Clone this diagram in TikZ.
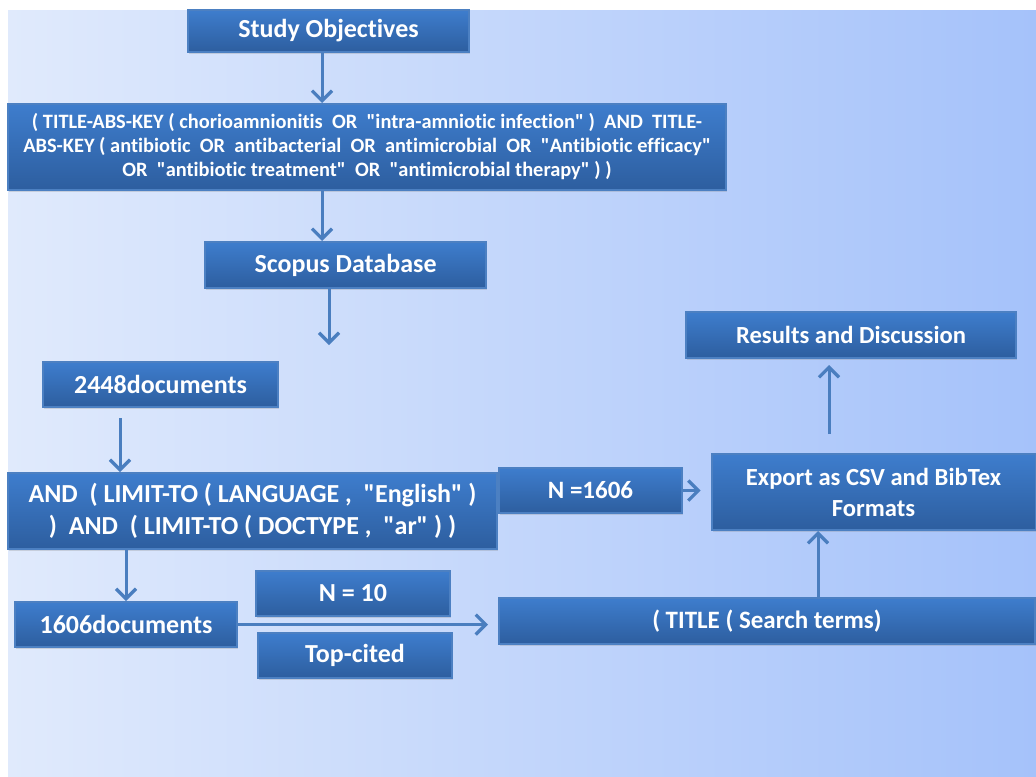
\documentclass[tikz,border=0pt]{standalone}
\usepackage{fontspec}
\setmainfont{Carlito}[Ligatures={NoCommon,TeXOff}]
\usetikzlibrary{arrows.meta,calc,positioning,shadows}
\definecolor{boxtop}{HTML}{3E7DCD}
\definecolor{boxbot}{HTML}{2D5E9F}
\definecolor{boxedge}{HTML}{4C80C2}
\definecolor{arrowblue}{HTML}{4A7EBF}
\definecolor{bgleft}{HTML}{E0EAFC}
\definecolor{bgright}{HTML}{A5C2FA}
\newcommand{\dq}{\symbol{34}}
\tikzset{
    x=0.5pt,y=-0.5pt,
    flowbox/.style ={rectangle, draw=boxedge, line width=1pt, top color=boxtop, bottom color=boxbot,
                     text=white, font=\bfseries\fontsize{13}{15}\selectfont, align=center, inner sep=1pt,
                     drop shadow={opacity=0.25, shadow xshift=0.6pt, shadow yshift=-1.2pt}},
    arr/.style ={-{Straight Barb[length=5pt,width=10pt,line width=1.6pt]}, draw=arrowblue, line width=1.5pt},
    link/.style ={draw=arrowblue, line width=1.5pt}
}

\begin{document}
\begin{tikzpicture}

  \useasboundingbox (0,0) rectangle (1036,776);
  \fill[white] (0,0) rectangle (1036,776);
  \shade[left color=bgleft, right color=bgright] (8,10) rectangle (1036,776);

  \node[flowbox, minimum width=140.5pt, minimum height=21pt]   (obj)      at (328.5,31)  {Study Objectives};
  \node[flowbox, minimum width=359pt, minimum height=43pt, font=\bfseries\fontsize{10.2}{12}\selectfont]
                                                               (query)    at (367,147)
    {( TITLE-ABS-KEY ( chorioamnionitis~ OR~ \dq intra-amniotic infection\dq\ )~ AND~ TITLE-\\
     ABS-KEY ( antibiotic~ OR~ antibacterial~ OR~ antimicrobial~ OR~ \dq Antibiotic efficacy\dq\\
     OR~ \dq antibiotic treatment\dq~ OR~ \dq antimicrobial therapy\dq\ ) )};
  \node[flowbox, minimum width=140.5pt, minimum height=23pt]   (scopus)   at (345.5,265) {Scopus Database};
  \node[flowbox, minimum width=117.5pt, minimum height=22.5pt] (docsA)    at (160.5,384.5) {2448documents};
  \node[flowbox, minimum width=244.5pt, minimum height=38pt, font=\bfseries\fontsize{13}{16}\selectfont]
                                                               (limit)    at (252.5,511)
    {AND~ ( LIMIT-TO ( LANGUAGE ,~ \dq English\dq\ )\\ )~ AND~ ( LIMIT-TO ( DOCTYPE ,~ \dq ar\dq\ ) )};
  \node[flowbox, minimum width=111pt, minimum height=22.5pt]   (docsB)    at (126,624.5) {1606documents};
  \node[flowbox, minimum width=97pt, minimum height=22.5pt]    (nten)     at (353,593.5) {N = 10};
  \node[flowbox, minimum width=97pt, minimum height=22.5pt]    (topcited) at (355,655.5) {Top-cited};
  \node[flowbox, minimum width=268pt, minimum height=23pt, font=\bfseries\fontsize{12.5}{15}\selectfont]
                                                               (title)    at (767,621)   {( TITLE ( Search terms)};
  \node[flowbox, minimum width=91.5pt, minimum height=22.5pt, font=\bfseries\fontsize{12.5}{15}\selectfont]
                                                               (nall)     at (590.5,490.5) {N =1606};
  \node[flowbox, minimum width=162pt, minimum height=38pt, font=\bfseries\fontsize{12.3}{15.5}\selectfont]
                                                               (export)   at (873.5,492)
    {Export as CSV and BibTex\\ Formats};
  \node[flowbox, minimum width=165pt, minimum height=23pt, font=\bfseries\fontsize{12.3}{15}\selectfont]
                                                               (results)  at (851,335)   {Results and Discussion};

  % helper columns for the vertical arrows
  \coordinate (colA) at (322,0);
  \coordinate (colB) at (329,345);
  \coordinate (colC) at (120,0);
  \coordinate (colD) at (818,0);
  \coordinate (colE) at (829,0);

  \draw[arr] (obj.south -| colA) -- (query.north -| colA);
  \draw[arr] (query.south -| colA) -- (scopus.north -| colA);
  \draw[arr] (scopus.south -| colB) -- (colB);
  \draw[arr, shorten <=5pt] (docsA.south -| colC) -- (limit.north -| colC);
  \draw[arr] (limit.south -| docsB.north) -- (docsB.north);
  \draw[arr, shorten >=5pt] (docsB.east) -- (docsB.east -| title.west);
  \draw[link] (nall.west -| limit.east) -- (nall.west);
  \draw[arr, shorten >=5pt] (nall.east) -- (nall.east -| export.west);
  \draw[arr] (title.north -| colD) -- (export.south -| colD);
  \draw[arr, shorten <=9.5pt, shorten >=3pt] (export.north -| colE) -- (results.south -| colE);

\end{tikzpicture}
\end{document}
